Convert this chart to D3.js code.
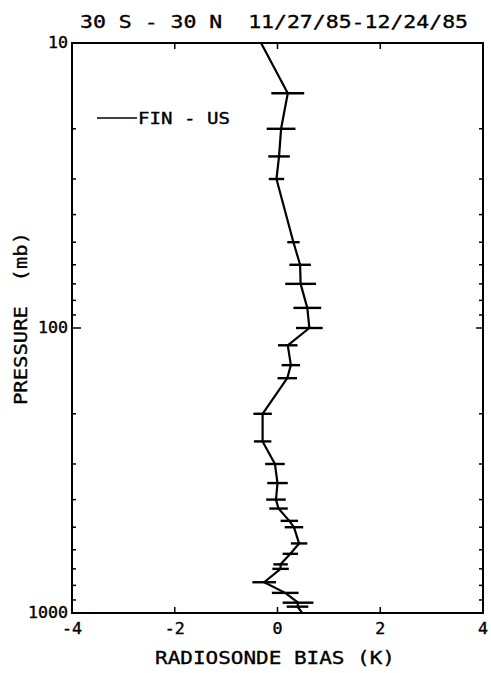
<!DOCTYPE html>
<html>
<head>
<meta charset="utf-8">
<script src="https://cdn.jsdelivr.net/npm/d3@7"></script>
<style>
  body { margin: 0; background: #fff; }
  svg text { font-family: "DejaVu Sans Mono", monospace; fill: #000; stroke: #000; stroke-width: 0.35px; white-space: pre; }
</style>
</head>
<body>
<svg id="chart"></svg>
<script>
// radiosonde bias FIN - US, 30S-30N
const pressure = [10, 15, 20, 25, 30, 50, 60, 70, 85, 100, 115, 135, 150, 200, 250,
  300, 350, 400, 430, 475, 500, 570, 620, 675, 700, 780, 850, 920, 950, 1000];
const bias = [-0.32, 0.20, 0.07, 0.03, -0.02, 0.31, 0.44, 0.45, 0.58, 0.62, 0.20, 0.26, 0.19, -0.29, -0.29,
  -0.05, 0.00, -0.03, 0.02, 0.23, 0.32, 0.42, 0.25, 0.06, 0.06, -0.26, 0.15, 0.40, 0.39, 0.48];
const errHalf = [0, 0.32, 0.28, 0.21, 0.15, 0.12, 0.21, 0.30, 0.27, 0.26, 0.19, 0.18, 0.19, 0.18, 0.17,
  0.19, 0.20, 0.19, 0.18, 0.17, 0.18, 0.16, 0.15, 0.14, 0.16, 0.23, 0.26, 0.30, 0.21, 0];
const xTicks = [-4, -2, 0, 2, 4];
const xInnerTicks = [-2, 0, 2];
const yLabels = [10, 100, 1000];
const yMinor = [20, 30, 40, 50, 60, 70, 80, 90, 200, 300, 400, 500, 600, 700, 800, 900];

let width = 491, height = 673;
let mLeft = 72, mRight = 483, mTop = 43, mBottom = 613;

let svg = d3.select('#chart')
  .attr('width', width)
  .attr('height', height);

let x = d3.scaleLinear().domain([-4, 4]).range([mLeft, mRight]);
let y = d3.scaleLog().domain([10, 1000]).range([mTop, mBottom]);

let data = pressure.map((p, i) => ({ p: p, b: bias[i], e: errHalf[i] }));

// inward ticks
let g = svg.append('g').attr('stroke', '#000');
function tickLines(vals, fx, fy, len, dx, dy, w) {
  g.append('g').selectAll('line').data(vals).enter().append('line')
    .attr('x1', d => fx(d)).attr('y1', d => fy(d))
    .attr('x2', d => fx(d) + dx * len).attr('y2', d => fy(d) + dy * len)
    .attr('stroke-width', w);
}
tickLines(xInnerTicks, d => x(d), d => mBottom, 6, 0, -1, 1.5);
tickLines(xInnerTicks, d => x(d), d => mTop, 6, 0, 1, 1.5);
tickLines(yMinor, d => mLeft, d => y(d), 4, 1, 0, 1.5);
tickLines(yMinor, d => mRight, d => y(d), 4, -1, 0, 1.5);
tickLines([100], d => mLeft, d => y(d), 9, 1, 0, 1.5);
tickLines([100], d => mRight, d => y(d), 7, -1, 0, 1.5);

// frame
svg.append('rect')
  .attr('x', mLeft).attr('y', mTop)
  .attr('width', mRight - mLeft).attr('height', mBottom - mTop)
  .attr('fill', 'none').attr('stroke', '#000').attr('stroke-width', 2);

// tick labels
svg.append('g').selectAll('text').data(xTicks).enter().append('text')
  .attr('x', d => x(d)).attr('y', 634)
  .attr('text-anchor', 'middle')
  .attr('font-size', 15)
  .attr('textLength', d => String(d).length * 10)
  .attr('lengthAdjust', 'spacingAndGlyphs')
  .text(d => d);

svg.append('g').selectAll('text').data(yLabels).enter().append('text')
  .attr('x', 68).attr('y', d => y(d) + 5)
  .attr('text-anchor', 'end')
  .attr('font-size', 15)
  .attr('textLength', d => String(d).length * 10)
  .attr('lengthAdjust', 'spacingAndGlyphs')
  .text(d => d);

// titles
svg.append('text')
  .attr('x', 80).attr('y', 28)
  .attr('font-size', 18)
  .attr('textLength', 388).attr('lengthAdjust', 'spacingAndGlyphs')
  .text('30 S - 30 N  11/27/85-12/24/85');

svg.append('text')
  .attr('x', 155).attr('y', 664)
  .attr('font-size', 18)
  .attr('textLength', 240).attr('lengthAdjust', 'spacingAndGlyphs')
  .text('RADIOSONDE BIAS (K)');

svg.append('text')
  .attr('transform', 'translate(27,405) rotate(-90)')
  .attr('font-size', 18)
  .attr('textLength', 173).attr('lengthAdjust', 'spacingAndGlyphs')
  .text('PRESSURE  (mb)');

// error bars
svg.append('g').selectAll('line').data(data.filter(d => d.e > 0)).enter().append('line')
  .attr('x1', d => x(d.b - d.e)).attr('x2', d => x(d.b + d.e))
  .attr('y1', d => y(d.p)).attr('y2', d => y(d.p))
  .attr('stroke', '#000').attr('stroke-width', 2.4);

// profile line
let line = d3.line().x(d => x(d.b)).y(d => y(d.p));
svg.append('path')
  .datum(data)
  .attr('d', line)
  .attr('fill', 'none')
  .attr('stroke', '#000')
  .attr('stroke-width', 2.2)
  .attr('stroke-linejoin', 'round');

// legend
svg.append('line')
  .attr('x1', 97).attr('x2', 137).attr('y1', 118).attr('y2', 118)
  .attr('stroke', '#000').attr('stroke-width', 1.5);
svg.append('text')
  .attr('x', 138).attr('y', 124)
  .attr('font-size', 16)
  .attr('textLength', 92).attr('lengthAdjust', 'spacingAndGlyphs')
  .text('FIN - US');
</script>
</body>
</html>
